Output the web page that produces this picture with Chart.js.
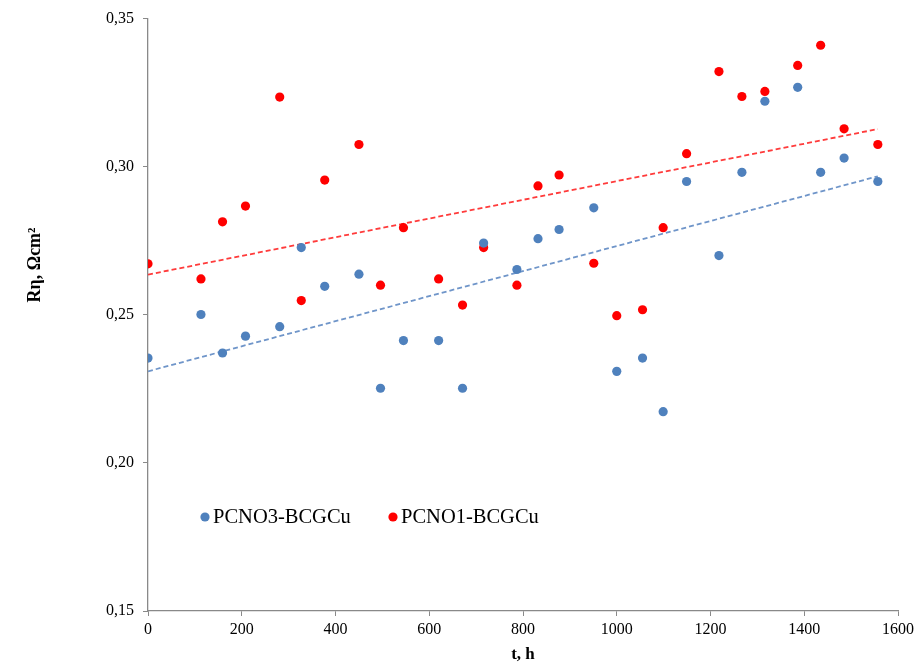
<!DOCTYPE html>
<html>
<head>
<meta charset="utf-8">
<script src="https://cdn.jsdelivr.net/npm/chart.js@4"></script>
<style>
    html, body { margin: 0; padding: 0; background: #fff; }
    #wrap { width: 918px; height: 665px; }
</style>
</head>
<body>
<div id="wrap"><canvas id="chart1" width="918" height="665"></canvas></div>
<script>
// exposure time, h (shared by both samples)
const hours = [0, 113, 159, 208, 281, 327, 377, 450, 496, 545, 620, 671, 716, 787,
    832, 877, 951, 1000, 1055, 1099, 1149, 1218, 1267, 1316, 1386, 1435, 1485, 1557];

// polarization resistance, Ohm*cm2
const rPCNO3 = [0.2354, 0.2501, 0.2371, 0.2428, 0.2460, 0.2727, 0.2596, 0.2637, 0.2252, 0.2413,
    0.2413, 0.2252, 0.2742, 0.2653, 0.2757, 0.2788, 0.2861, 0.2309, 0.2354, 0.2173,
    0.2950, 0.2700, 0.2981, 0.3221, 0.3268, 0.2981, 0.3029, 0.2950];
const rPCNO1 = [0.2672, 0.2621, 0.2814, 0.2867, 0.3235, 0.2548, 0.2955, 0.3075, 0.2600, 0.2794,
    0.2621, 0.2533, 0.2727, 0.2600, 0.2935, 0.2972, 0.2674, 0.2497, 0.2517, 0.2794,
    0.3044, 0.3321, 0.3237, 0.3254, 0.3342, 0.3410, 0.3128, 0.3075];

const seriesNames = ["PCNO3-BCGCu", "PCNO1-BCGCu"];
const yTicks = [0.15, 0.20, 0.25, 0.30, 0.35];
const xTicks = [0, 200, 400, 600, 800, 1000, 1200, 1400, 1600];

const BLUE = "#4f81bd";
const RED = "#ff0000";
const AXIS = "#898989";
const SERIF = "'Liberation Serif', 'Times New Roman', serif";

const toPoints = (xs, ys) => xs.map((x, i) => ({ x, y: ys[i] }));

// least-squares trend line from first to last hour
const trend = (xs, ys) => {
    const n = xs.length;
    const mx = xs.reduce((a, b) => a + b, 0) / n;
    const my = ys.reduce((a, b) => a + b, 0) / n;
    let sxy = 0, sxx = 0;
    xs.forEach((x, i) => {
        sxy += (x - mx) * (ys[i] - my);
        sxx += (x - mx) ** 2;
    });
    const k = sxy / sxx;
    const b = my - k * mx;
    const x0 = xs[0], x1 = xs[n - 1];
    return [{ x: x0, y: b + k * x0 }, { x: x1, y: b + k * x1 }];
};

const scatterSet = (label, ys, color) => ({
    type: "scatter",
    label,
    data: toPoints(hours, ys),
    backgroundColor: color,
    borderColor: color,
    pointRadius: 4.6,
    pointHoverRadius: 4.6,
    borderWidth: 0,
    order: 1,
});

const trendSet = (ys, color) => ({
    type: "line",
    label: "",
    data: trend(hours, ys),
    borderColor: color,
    borderWidth: 1.8,
    borderDash: [5, 3],
    pointRadius: 0,
    fill: false,
    order: 2,
});

// legend sits inside the plot, y title drawn by hand
const extras = {
    id: "extras",
    afterDraw(chart) {
        const { ctx } = chart;
        ctx.save();
        const items = [
            { x: 205, color: BLUE, text: seriesNames[0] },
            { x: 393, color: RED, text: seriesNames[1] },
        ];
        ctx.font = `20.5px ${SERIF}`;
        ctx.textBaseline = "middle";
        ctx.fillStyle = "#000";
        items.forEach((it) => {
            ctx.beginPath();
            ctx.fillStyle = it.color;
            ctx.arc(it.x, 517, 4.6, 0, Math.PI * 2);
            ctx.fill();
            ctx.fillStyle = "#000";
            ctx.fillText(it.text, it.x + 8, 518);
        });

        ctx.translate(35, 265);
        ctx.rotate(-Math.PI / 2);
        ctx.font = `bold 18px ${SERIF}`;
        ctx.textAlign = "center";
        ctx.fillText("Rη, Ωcm²", 0, 0);
        ctx.restore();
    },
};

new Chart(document.getElementById("chart1"), {
    data: {
        datasets: [
            scatterSet(seriesNames[0], rPCNO3, BLUE),
            scatterSet(seriesNames[1], rPCNO1, RED),
            trendSet(rPCNO3, "#6f95c9"),
            trendSet(rPCNO1, "#ff3b3b"),
        ],
    },
    options: {
        responsive: false,
        animation: false,
        layout: { padding: { left: 60, right: 16, top: 16, bottom: 0 } },
        plugins: {
            legend: { display: false },
            tooltip: { enabled: false },
        },
        scales: {
            x: {
                type: "linear",
                min: 0,
                max: 1600,
                afterBuildTicks: (scale) => { scale.ticks = xTicks.map((v) => ({ value: v })); },
                afterFit: (scale) => { scale.height = 54; },
                grid: {
                    drawOnChartArea: false,
                    color: AXIS,
                    tickColor: AXIS,
                    tickLength: 5,
                },
                border: { color: AXIS, width: 1.3 },
                ticks: {
                    color: "#000",
                    font: { family: SERIF, size: 16 },
                    padding: 4,
                    maxRotation: 0,
                    callback: (v) => String(v),
                },
                title: {
                    display: true,
                    text: "t, h",
                    color: "#000",
                    font: { family: SERIF, size: 17, weight: "bold" },
                    padding: { top: 0, bottom: 0 },
                },
            },
            y: {
                type: "linear",
                min: 0.15,
                max: 0.35,
                afterBuildTicks: (scale) => { scale.ticks = yTicks.map((v) => ({ value: v })); },
                afterFit: (scale) => { scale.width = 88; },
                grid: {
                    drawOnChartArea: false,
                    color: AXIS,
                    tickColor: AXIS,
                    tickLength: 5,
                },
                border: { color: AXIS, width: 1.3 },
                ticks: {
                    color: "#000",
                    font: { family: SERIF, size: 16 },
                    padding: 9,
                    callback: (v) => v.toFixed(2).replace(".", ","),
                },
            },
        },
    },
    plugins: [extras],
});
</script>
</body>
</html>
